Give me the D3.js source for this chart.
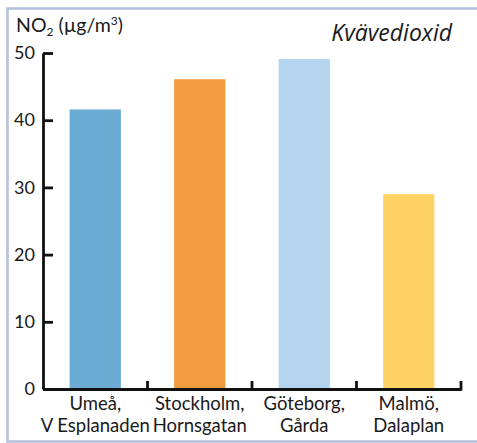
<!DOCTYPE html>
<html>
<head>
<meta charset="utf-8">
<script src="https://cdn.jsdelivr.net/npm/d3@7"></script>
<style>
  body { margin: 0; background: #fff; }
  text { font-family: Lato, "Open Sans", sans-serif; fill: #1a1a1a; }
</style>
</head>
<body>
<script>
var sites = ['Umeå, V Esplanaden','Stockholm, Hornsgatan','Göteborg, Gårda','Malmö, Dalaplan'];
var line1 = ['Umeå,','Stockholm,','Göteborg,','Malmö,'];
var line2 = ['V Esplanaden','Hornsgatan','Gårda','Dalaplan'];
var no2 = [41.6, 46.1, 49.1, 29.0];
var barColors = ['#6aaad3','#f19a3f','#b4d4ed','#fed264'];
var yTicks = [0,10,20,30,40,50];

var width = 477, height = 443;
var plotLeft = 43, plotRight = 461, plotTop = 53, plotBottom = 389;

var svg = d3.select('body').append('svg').attr('width',width).attr('height',height);

// frame
svg.append('rect')
  .attr('x',7.5).attr('y',8.5).attr('width',480).attr('height',433)
  .attr('fill','none').attr('stroke','#b3bfdd').attr('stroke-width',2.5);

var x = d3.scaleBand().domain(sites).range([plotLeft,plotRight]).paddingInner(0.51).paddingOuter(0.255);
var y = d3.scaleLinear().domain([0,50]).range([plotBottom,plotTop]);

var step = (plotRight-plotLeft)/sites.length;

svg.selectAll('rect.bar')
  .data(no2)
  .enter().append('rect')
    .attr('class','bar')
    .attr('x',function(d,i){return x(sites[i]);})
    .attr('y',function(d){return y(d);})
    .attr('width',x.bandwidth())
    .attr('height',function(d){return y(0)-y(d);})
    .attr('fill',function(d,i){return barColors[i];});

// y axis, ticks pointing inward
var yAxis = d3.axisLeft(y).tickValues(yTicks).tickSizeInner(-10).tickSizeOuter(0).tickPadding(8);
var gy = svg.append('g').attr('transform','translate('+plotLeft+',0)').call(yAxis);
gy.select('.domain').attr('stroke','#111').attr('stroke-width',2.8);
gy.selectAll('.tick line').attr('stroke','#111').attr('stroke-width',2.8);
gy.selectAll('.tick text').attr('font-size',18).attr('font-family','Lato').attr('fill','#1a1a1a');

// x axis
var xAxis = d3.axisBottom(x).tickSize(0).tickFormat('');
var gx = svg.append('g').attr('transform','translate(0,'+plotBottom+')').call(xAxis);
gx.select('.domain').attr('stroke','#111').attr('stroke-width',2.8);

// boundary ticks pointing up
svg.selectAll('line.sep')
  .data(d3.range(1,sites.length+1))
  .enter().append('line')
    .attr('class','sep')
    .attr('x1',function(d){return plotLeft+d*step;})
    .attr('x2',function(d){return plotLeft+d*step;})
    .attr('y1',plotBottom+1.4)
    .attr('y2',plotBottom-8)
    .attr('stroke','#111').attr('stroke-width',2.8);

// category labels
var lab = svg.selectAll('text.cat')
  .data(sites)
  .enter().append('text')
    .attr('class','cat')
    .attr('text-anchor','middle')
    .attr('font-size',18.5);
lab.append('tspan')
  .attr('x',function(d){return x(d)+x.bandwidth()/2;})
  .attr('y',410)
  .text(function(d,i){return line1[i];});
lab.append('tspan')
  .attr('x',function(d){return x(d)+x.bandwidth()/2;})
  .attr('y',432)
  .text(function(d,i){return line2[i];});

// unit label
var unit = svg.append('text').attr('x',16).attr('y',32).attr('font-size',19.5);
unit.append('tspan').text('NO');
unit.append('tspan').attr('font-size',12).attr('dy',4).text('2');
unit.append('tspan').attr('dy',-4).text(' (µg/m');
unit.append('tspan').attr('font-size',12).attr('dy',-7).text('3');
unit.append('tspan').attr('dy',7).text(')');

svg.append('text')
  .attr('x',452).attr('y',41)
  .attr('text-anchor','end')
  .attr('font-size',23)
  .attr('font-style','italic')
  .style('font-family','"Open Sans", sans-serif')
  .text('Kvävedioxid');
</script>
</body>
</html>
